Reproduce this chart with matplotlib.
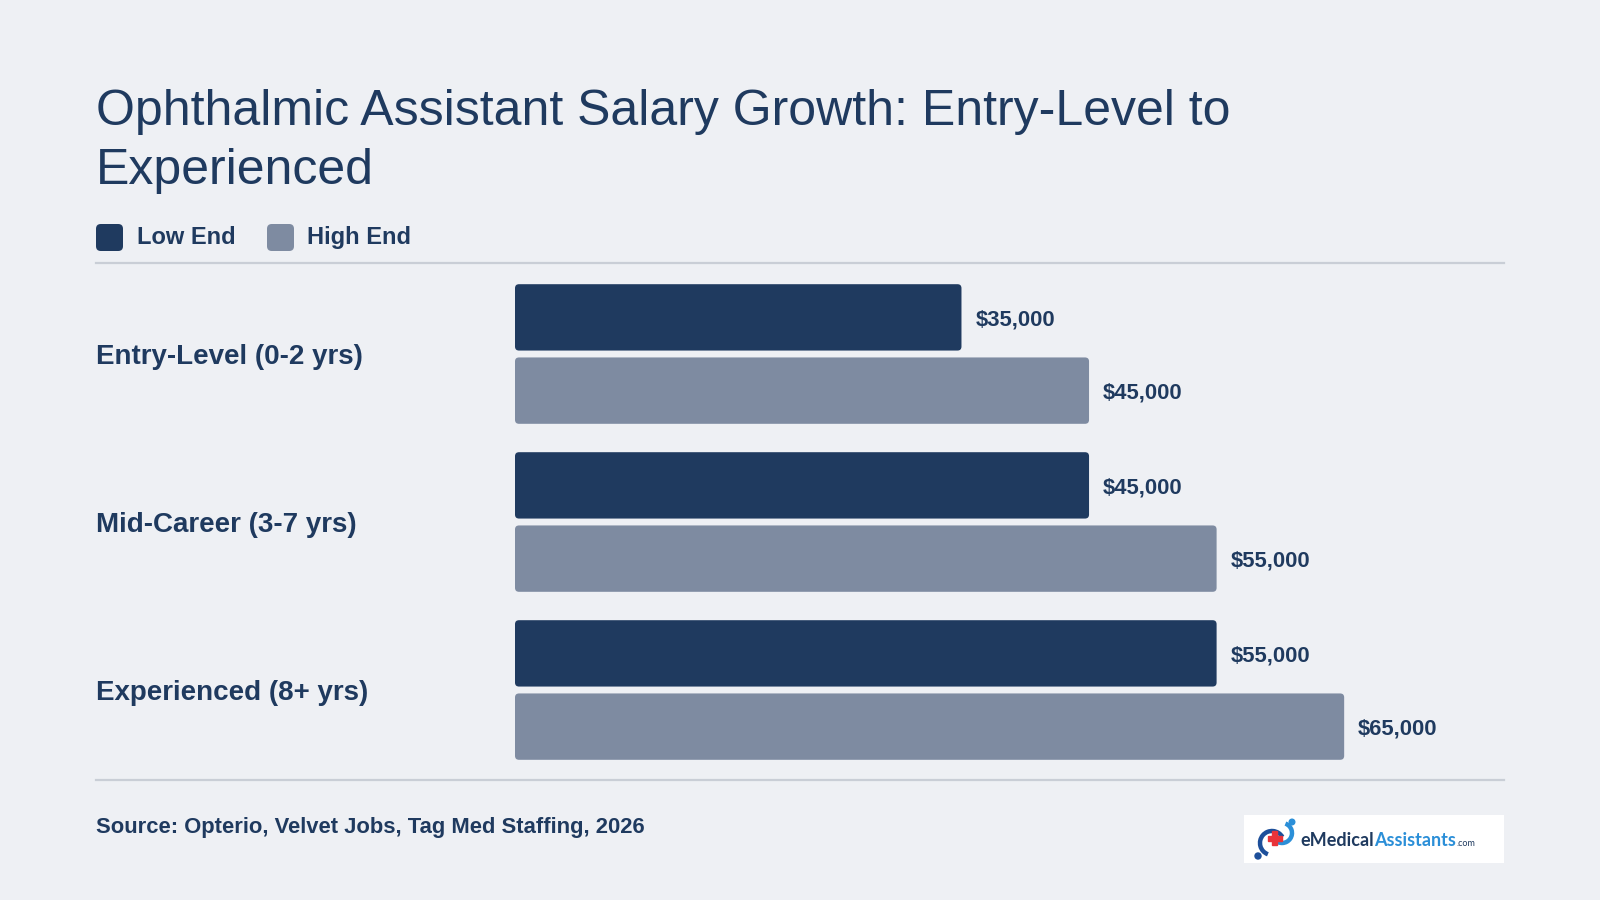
import matplotlib
matplotlib.use("Agg")
import matplotlib.pyplot as plt
from matplotlib.patches import FancyBboxPatch, Rectangle, Circle, Arc
import numpy as np

# -------------------------
# Data
# -------------------------
categories = ["Entry-Level (0-2 yrs)", "Mid-Career (3-7 yrs)", "Experienced (8+ yrs)"]
low_end = [35000, 45000, 55000]
high_end = [45000, 55000, 65000]
series_names = ["Low End", "High End"]

title = "Ophthalmic Assistant Salary Growth: Entry-Level to\nExperienced"
source = "Source: Opterio, Velvet Jobs, Tag Med Staffing, 2026"

# -------------------------
# Style
# -------------------------
BG = "#eef0f4"
NAVY = "#1f3a5f"
GRAY = "#7e8ba1"
RULE = "#c9ced6"
LOGO_BLUE = "#2b8fd8"
LOGO_RED = "#e8333a"

plt.rcParams["font.family"] = ["Liberation Sans", "DejaVu Sans"]

W, H = 1600, 900
fig = plt.figure(figsize=(16, 9), dpi=100, facecolor=BG)


def fx(px):
    return px / W


def fy(py):
    return 1 - py / H


# title (baseline of the last line)
fig.text(fx(96), fy(184), title, fontsize=36, color=NAVY, ha="left",
         va="baseline", linespacing=1.36)

# legend
for sx, tx, name, col in [(96, 137, series_names[0], NAVY), (267, 307, series_names[1], GRAY)]:
    fig.patches.append(FancyBboxPatch((fx(sx), fy(251)), fx(27), 27 / H,
                                      boxstyle="round,pad=0,rounding_size=0.003",
                                      mutation_aspect=W / H, transform=fig.transFigure,
                                      facecolor=col, edgecolor="none"))
    fig.text(fx(tx), fy(237.5), name, fontsize=17, fontweight="bold", color=NAVY,
             ha="left", va="center")

# rules
for yy in (263, 780):
    fig.lines.append(plt.Line2D([fx(96), fx(1504)], [fy(yy), fy(yy)], color=RULE,
                                lw=1.6, transform=fig.transFigure))

# -------------------------
# Bars
# -------------------------
ax_left, ax_right, ax_top, ax_bot = 515, 1510, 270, 774
ax = fig.add_axes([fx(ax_left), fy(ax_bot), fx(ax_right - ax_left), (ax_bot - ax_top) / H])
ax.set_facecolor("none")
ax.set_xlim(0, 78000)
ax.set_ylim(2.5, -0.5)
ax.axis("off")

y = np.arange(len(categories))
bh = 0.395
off = 0.218
bars_low = ax.barh(y - off, low_end, height=bh, color=NAVY)
bars_high = ax.barh(y + off, high_end, height=bh, color=GRAY)

# rounded corners: swap rectangles for rounded boxes
x_per_px = 78000 / (ax_right - ax_left)
y_per_px = 3.0 / (ax_bot - ax_top)
for bars in (bars_low, bars_high):
    for r in bars:
        r.set_visible(False)
        ax.add_patch(FancyBboxPatch((r.get_x(), r.get_y()), r.get_width(), r.get_height(),
                                    boxstyle=f"round,pad=0,rounding_size={4 * x_per_px}",
                                    mutation_aspect=y_per_px / x_per_px,
                                    facecolor=r.get_facecolor(), edgecolor="none"))

for vals, ys in ((low_end, y - off), (high_end, y + off)):
    for v, yy in zip(vals, ys):
        ax.annotate(f"${v:,.0f}", (v, yy), xytext=(10, 0), textcoords="offset points",
                    ha="left", va="center_baseline", fontsize=15.8, fontweight="bold",
                    color=NAVY)

# category labels
for cat, yy in zip(categories, y):
    ax.annotate(cat, (0, yy), xycoords=("figure fraction", "data"),
                xytext=(fx(96) * W * 0.72, 0), textcoords="offset points",
                ha="left", va="center_baseline", fontsize=20, fontweight="bold", color=NAVY)

# source
fig.text(fx(96), fy(828), source, fontsize=15.8, fontweight="bold", color=NAVY,
         ha="left", va="center")

# -------------------------
# Logo
# -------------------------
lax = fig.add_axes([fx(1244), fy(863), fx(260), 48 / H])
lax.set_xlim(0, 260)
lax.set_ylim(48, 0)
lax.set_facecolor("white")
lax.set_xticks([])
lax.set_yticks([])
for s in lax.spines.values():
    s.set_visible(False)
lax.add_patch(Arc((28, 28), 24, 24, theta1=110, theta2=330, color="#1d4f9a", lw=3.2))
lax.add_patch(Arc((38, 18), 20, 20, theta1=-70, theta2=140, color=LOGO_BLUE, lw=3.2))
lax.add_patch(Circle((14, 41), 3.0, color="#1d4f9a"))
lax.add_patch(Circle((48, 7), 2.8, color=LOGO_BLUE))
lax.add_patch(Rectangle((28, 16), 5, 14, color=LOGO_RED))
lax.add_patch(Rectangle((23.5, 20.5), 14, 5, color=LOGO_RED))
t1 = lax.text(56, 25, "eMedical", fontsize=13, fontweight="bold", color=NAVY,
              family=["Lato", "DejaVu Sans"], ha="left", va="center")
fig.canvas.draw()
bb = t1.get_window_extent()
x2 = lax.transData.inverted().transform((bb.x1, bb.y0))[0]
t2 = lax.text(x2, 25, "Assistants", fontsize=13, fontweight="bold", color=LOGO_BLUE,
              family=["Lato", "DejaVu Sans"], ha="left", va="center")
fig.canvas.draw()
bb = t2.get_window_extent()
x3 = lax.transData.inverted().transform((bb.x1, bb.y0))[0]
lax.text(x3 + 1, 28, ".com", fontsize=6.5, color=NAVY, family=["Lato", "DejaVu Sans"],
         ha="left", va="center")

plt.savefig("out.png", dpi=100, facecolor=BG)
plt.close()
